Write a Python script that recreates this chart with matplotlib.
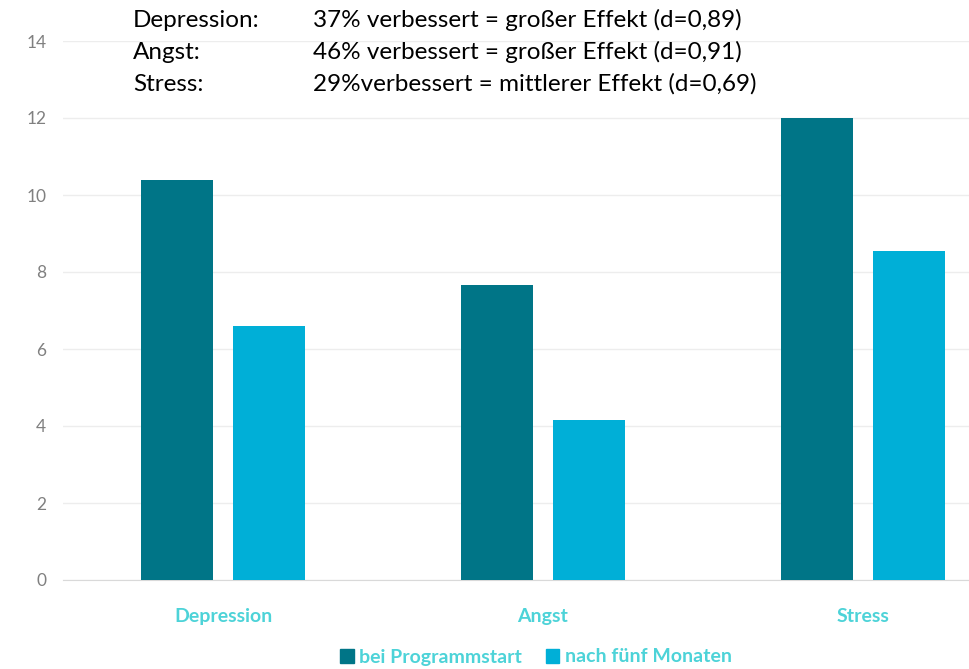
import numpy as np
import matplotlib
matplotlib.use("Agg")
import matplotlib.pyplot as plt
from matplotlib.patches import Patch

categories = ["Depression", "Angst", "Stress"]
start_values = [10.4, 7.65, 12.0]
after_values = [6.6, 4.15, 8.55]
series_names = ["bei Programmstart", "nach fünf Monaten"]
note_labels = ["Depression:", "Angst:", "Stress:"]
note_texts = ["37% verbessert = großer Effekt (d=0,89)",
              "46% verbessert = großer Effekt (d=0,91)",
              "29%verbessert = mittlerer Effekt (d=0,69)"]

DARK = "#007587"
LIGHT = "#00AFD7"
TURQ = "#4DD3D8"
GREY = "#808080"

plt.rcParams["font.family"] = ["Lato", "DejaVu Sans"]

fig = plt.figure(figsize=(9.69, 6.69), dpi=100)
ax = fig.add_axes([63 / 969, 1 - 580 / 669, 1 - 63 / 969, 539 / 669])

x = np.arange(len(categories))
w = 0.225
off = 0.144
ax.bar(x - off, start_values, w, color=DARK, zorder=3)
ax.bar(x + off, after_values, w, color=LIGHT, zorder=3)

ax.set_xlim(-0.5, 2 + 106 / 320)
ax.set_ylim(0, 14)
ax.set_yticks(range(0, 15, 2))
ax.yaxis.grid(True, color="#EDEDED", linewidth=1, zorder=0)
ax.set_axisbelow(True)
for s in ("top", "right", "left"):
    ax.spines[s].set_visible(False)
ax.spines["bottom"].set_color("#D9D9D9")
ax.tick_params(axis="y", length=0, labelsize=12.5, labelcolor=GREY, pad=12)
ax.tick_params(axis="x", length=0, labelsize=14, labelcolor=TURQ, pad=20)
ax.set_xticks(x)
ax.set_xticklabels(categories, fontweight="bold")

# annotation block at the top
for i, (lab, txt) in enumerate(zip(note_labels, note_texts)):
    yy = 1 - (27 + i * 32) / 669
    fig.text(133 / 969, yy, lab, fontsize=17.5, color="black", va="baseline", ha="left")
    fig.text(313 / 969, yy, txt, fontsize=17.5, color="black", va="baseline", ha="left")

handles = [Patch(color=DARK), Patch(color=LIGHT)]
leg = fig.legend(handles, series_names, loc="center", bbox_to_anchor=(536 / 969, 1 - 657 / 669),
                 ncol=2, frameon=False, fontsize=14, handlelength=0.7, handleheight=0.7,
                 handletextpad=0.3, columnspacing=1.2, prop={"weight": "bold", "size": 14})
for t in leg.get_texts():
    t.set_color(TURQ)

fig.savefig("out.png", dpi=100)
